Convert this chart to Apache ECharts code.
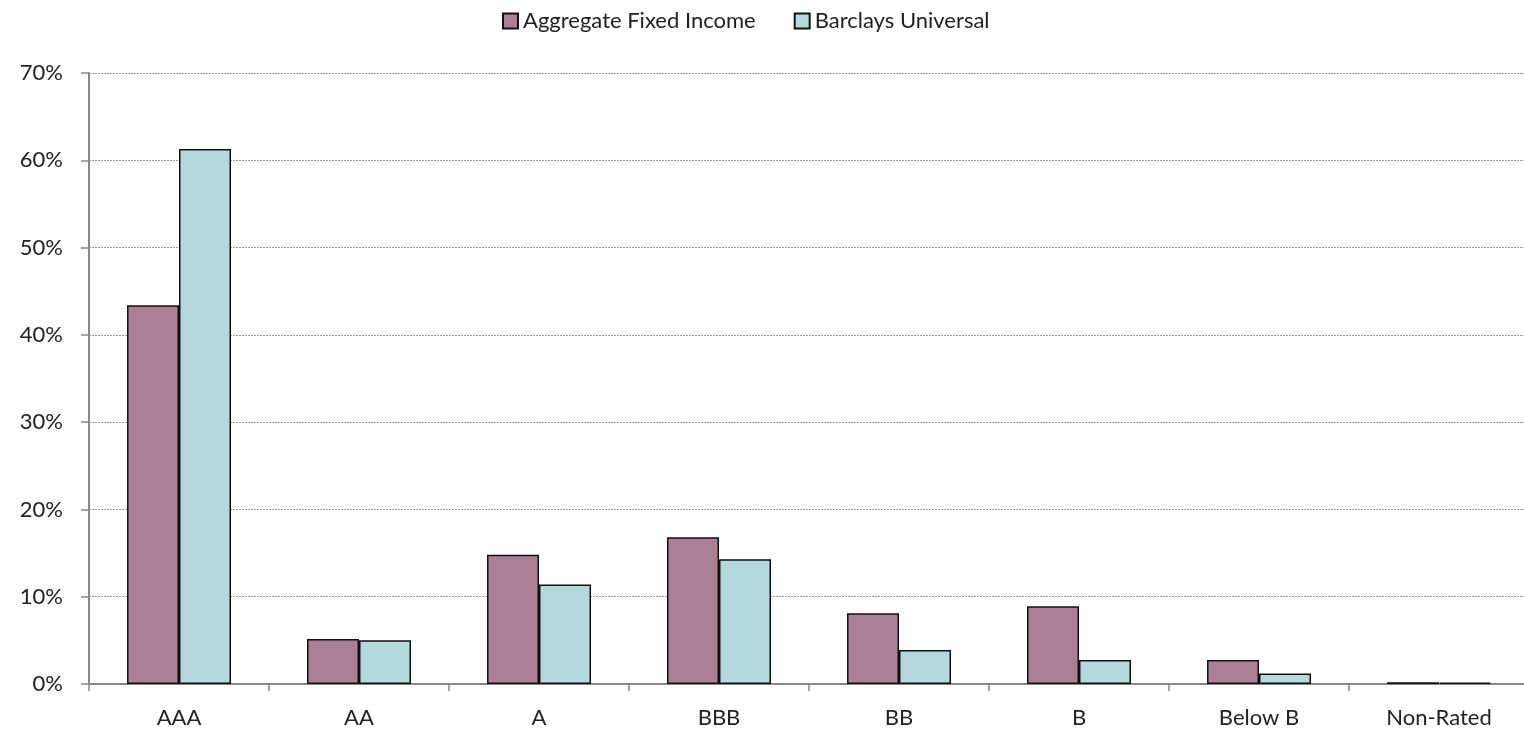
<!DOCTYPE html>
<html>
<head>
<meta charset="utf-8">
<script src="https://cdn.jsdelivr.net/npm/echarts@6/dist/echarts.min.js"></script>
<style>
  html, body { margin: 0; padding: 0; background: #fff; }
  #chart { width: 1524px; height: 733px; }
</style>
</head>
<body>
<div id="chart"></div>
<script>
// Credit quality breakdown (% of portfolio)
const categories = ['AAA', 'AA', 'A', 'BBB', 'BB', 'B', 'Below B', 'Non-Rated'];
const aggregateFixedIncome = [43.4, 5.15, 14.8, 16.8, 8.1, 8.9, 2.75, 0.2];
const barclaysUniversal = [61.3, 5.0, 11.4, 14.3, 3.9, 2.75, 1.2, 0.15];
const yTicks = [0, 10, 20, 30, 40, 50, 60, 70];

const FONT = 'Lato, "Open Sans", sans-serif';
const chart = echarts.init(document.getElementById('chart'));

chart.setOption({
  animation: false,
  textStyle: { fontFamily: FONT },
  legend: {
    top: 5,
    left: 497,
    itemWidth: 15,
    itemHeight: 15,
    itemGap: 38,
    icon: 'rect',
    textStyle: { fontSize: 22, color: '#222', fontFamily: FONT },
    data: ['Aggregate Fixed Income', 'Barclays Universal']
  },
  // the last category runs slightly past the right edge of the canvas
  grid: { left: 89, top: 73, width: 1440, height: 611, outerBoundsMode: 'none', containLabel: false },
  xAxis: {
    type: 'category',
    data: categories,
    axisLine: { lineStyle: { color: '#888', width: 2 } },
    axisTick: { show: true, length: 7, lineStyle: { color: '#888', width: 1.5 } },
    axisLabel: { fontSize: 22, color: '#222', margin: 23, fontFamily: FONT }
  },
  yAxis: {
    type: 'value',
    min: yTicks[0],
    max: yTicks[yTicks.length - 1],
    interval: 10,
    axisLine: { show: true, lineStyle: { color: '#888', width: 2 } },
    axisTick: { show: true, length: 8, lineStyle: { color: '#888', width: 1.5 } },
    axisLabel: { fontSize: 22, color: '#222', margin: 26, formatter: v => v + '%', fontFamily: FONT },
    splitLine: { show: true, lineStyle: { color: '#999', width: 1, type: [2, 1] } }
  },
  series: [
    {
      name: 'Aggregate Fixed Income',
      type: 'bar',
      data: aggregateFixedIncome,
      barWidth: 52,
      barGap: '0%',
      itemStyle: { color: '#AD7F95', borderColor: '#111', borderWidth: 1.5 }
    },
    {
      name: 'Barclays Universal',
      type: 'bar',
      data: barclaysUniversal,
      barWidth: 52,
      barGap: '0%',
      itemStyle: { color: '#B4D8DE', borderColor: '#111', borderWidth: 1.5 }
    }
  ]
});
</script>
</body>
</html>
